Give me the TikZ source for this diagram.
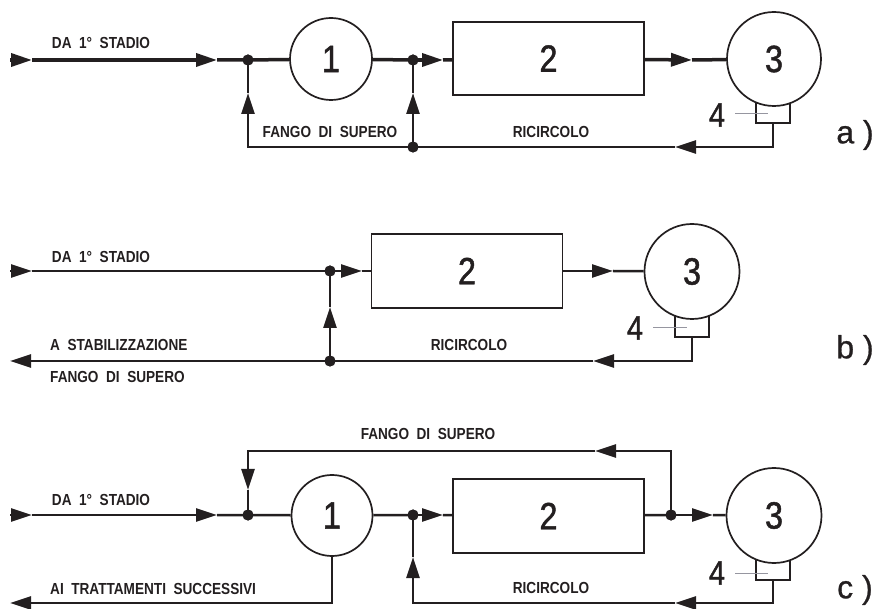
\documentclass[tikz,border=0pt]{standalone}
\usepackage{fontspec}
\setmainfont{Liberation Sans}
\newfontfamily\lblfont[FakeStretch=0.85,WordSpace=2]{Liberation Sans Bold}
\newfontfamily\numfont[FakeStretch=0.85,FakeBold=1.2]{Liberation Sans}
\newfontfamily\panelfont[FakeBold=0.8]{Liberation Sans}
\usetikzlibrary{arrows.meta}
\definecolor{ink}{RGB}{35,31,32}
\definecolor{leadgray}{RGB}{150,150,160}
\tikzset{
  thickflow/.style={line width=3.5pt,draw=ink},
  flow/.style={line width=2.5pt,draw=ink},
  tip/.style={-{Triangle[length=21pt,width=13pt]}},
  dot/.style={circle,fill=ink,inner sep=0pt,minimum size=11pt},
  tank/.style={circle,draw=ink,line width=1.7pt,fill=white,inner sep=0pt},
  basin/.style={rectangle,draw=ink,line width=1.7pt,fill=white,inner sep=0pt,minimum width=191pt,minimum height=74pt},
  pump/.style={rectangle,draw=ink,line width=1.7pt,fill=white,inner sep=0pt,minimum width=34pt,minimum height=24pt},
  lbl/.style={inner sep=0pt,text=ink,font=\lblfont\fontsize{16}{17}\selectfont},
  bignum/.style={inner sep=0pt,text=ink,font=\numfont\fontsize{38}{38}\selectfont},
  pnum/.style={inner sep=0pt,text=ink,font=\numfont\fontsize{34}{34}\selectfont},
  panel/.style={inner sep=0pt,text=ink,font=\panelfont\fontsize{32}{32}\selectfont},
  leader/.style={line width=1pt,draw=leadgray}
}
\begin{document}
\begin{tikzpicture}[x=1pt,y=-1pt]
\useasboundingbox (0,0) rectangle (876,609);

% ================= panel a =================
\coordinate (inA) at (10,60);
\coordinate (tA1) at (32,60);
\coordinate (tA2) at (217,60);
\node[dot] (ja1) at (248,60) {};
\node[dot] (ja2) at (413,60) {};
\coordinate (tA3) at (443,60);
\coordinate (tA4) at (692,60);
\node[pump] (p4a) at (773,111) {};
\node[tank,minimum size=82pt] (c1a) at (331,59) {};
\node[bignum] at (c1a) {1};
\node[basin,minimum height=73pt] (b2a) at (548.5,58.5) {};
\node[bignum] at (b2a) {2};
\node[tank,minimum size=94pt] (c3a) at (774,59) {};
\node[bignum] at (c3a) {3};
\node[dot] (ja3) at (413,147) {};
\coordinate (ka1) at (773,147);
\coordinate (tA5) at (675,147);
\coordinate (ka2) at (248,147);
\coordinate (tA6) at (248,93);
\coordinate (tA7) at (413,93);

\draw[thickflow,tip] (inA) -- (tA1);
\draw[thickflow,tip] (tA1) -- (tA2);
\draw[thickflow] (tA2) -- (ja1.center) -- (c1a);
\draw[thickflow] (c1a) -- (ja2.center);
\draw[thickflow,tip] (ja2.center) -- (tA3);
\draw[thickflow] (tA3) -- (b2a);
\draw[thickflow,tip] (b2a) -- (tA4);
\draw[thickflow] (tA4) -- (c3a);
\draw[flow] (p4a.south) -- (ka1) -- ++(-20,0);
\draw[flow,tip] (ka1) -- (tA5);
\draw[flow] (tA5) -- (ja3.center);
\draw[flow] (ja3.center) -- (ka2) -- ++(0,-10);
\draw[flow,tip] (ka2) -- (tA6);
\draw[flow] (tA6) -- (ja1.center);
\draw[flow,tip] (ja3.center) -- (tA7);
\draw[flow] (tA7) -- (ja2.center);
\node[dot] at (ja1) {};
\node[dot] at (ja2) {};
\node[dot] at (ja3) {};

\node[lbl] at (101,43) {DA 1° STADIO};
\node[lbl] at (330,132) {FANGO DI SUPERO};
\node[lbl] at (551,132) {RICIRCOLO};
\node[pnum] (l4a) at (717,115) {4};
\coordinate (g4a) at (768,114);
\draw[leader] (l4a.east) ++(10,-1) -- (g4a);
\node[panel] at (855,135) {a )};

% ================= panel b =================
\coordinate (inB) at (10,271);
\coordinate (tB1) at (32,271);
\node[dot] (jb1) at (330,271) {};
\coordinate (tB2) at (362,271);
\coordinate (tB3) at (613,271);
\node[pump] (p4b) at (692,325) {};
\node[basin] (b2b) at (467,271) {};
\node[bignum] at (b2b) {2};
\node[tank,minimum size=95pt] (c3b) at (692,271.5) {};
\node[bignum] at (c3b) {3};
\node[dot] (jb2) at (330,361) {};
\coordinate (kb1) at (692,361);
\coordinate (tB4) at (593,361);
\coordinate (outB) at (10,361);
\coordinate (tB5) at (330,307);

\draw[flow,tip] (inB) -- (tB1);
\draw[flow] (tB1) -- (jb1.center);
\draw[flow,tip] (jb1.center) -- (tB2);
\draw[flow] (tB2) -- (b2b);
\draw[flow,tip] (b2b) -- (tB3);
\draw[flow] (tB3) -- (c3b);
\draw[flow] (p4b.south) -- (kb1) -- ++(-20,0);
\draw[flow,tip] (kb1) -- (tB4);
\draw[flow] (tB4) -- (jb2.center);
\draw[flow,tip] (jb2.center) -- (outB);
\draw[flow,tip] (jb2.center) -- (tB5);
\draw[flow] (tB5) -- (jb1.center);
\node[dot] at (jb1) {};
\node[dot] at (jb2) {};

\node[lbl] at (101,257) {DA 1° STADIO};
\node[lbl,anchor=west] at (50,345) {A STABILIZZAZIONE};
\node[lbl,anchor=west] at (50,377) {FANGO DI SUPERO};
\node[lbl] at (469,345) {RICIRCOLO};
\node[pnum] (l4b) at (635,328) {4};
\coordinate (g4b) at (687,328);
\draw[leader] (l4b.east) ++(10,0) -- (g4b);
\node[panel] at (855,350) {b )};

% ================= panel c =================
\coordinate (inC) at (10,515);
\coordinate (tC1) at (32,515);
\coordinate (tC2) at (217,515);
\node[dot] (jc1) at (248,515) {};
\node[dot] (jc2) at (413,515) {};
\coordinate (tC3) at (443,515);
\node[dot] (jc3) at (671,515) {};
\coordinate (tC4) at (713,515);
\node[pump] (p4c) at (773,568) {};
\node[tank,minimum size=81pt] (c1c) at (332,515.5) {};
\node[bignum] at (c1c) {1};
\node[basin] (b2c) at (548.5,516) {};
\node[bignum] at (b2c) {2};
\node[tank,minimum size=95pt] (c3c) at (774,515.5) {};
\node[bignum] at (c3c) {3};
\coordinate (kc1) at (671,451);
\coordinate (tC5) at (595,451);
\coordinate (kc2) at (248,451);
\coordinate (tC6) at (248,490);
\coordinate (kc3) at (332,603);
\coordinate (outC) at (10,603);
\coordinate (kc4) at (773,603);
\coordinate (tC7) at (675,603);
\coordinate (kc5) at (413,603);
\coordinate (tC8) at (413,557);

\draw[flow,tip] (inC) -- (tC1);
\draw[flow,tip] (tC1) -- (tC2);
\draw[flow] (tC2) -- (jc1.center) -- (c1c);
\draw[flow] (c1c) -- (jc2.center);
\draw[flow,tip] (jc2.center) -- (tC3);
\draw[flow] (tC3) -- (b2c);
\draw[flow] (b2c) -- (jc3.center);
\draw[flow,tip] (jc3.center) -- (tC4);
\draw[flow] (tC4) -- (c3c);
% fango di supero loop
\draw[flow] (jc3.center) -- (kc1) -- ++(-20,0);
\draw[flow,tip] (kc1) -- (tC5);
\draw[flow] (tC5) -- (kc2) -- ++(0,10);
\draw[flow,tip] (kc2) -- (tC6);
\draw[flow] (tC6) -- (jc1.center);
% ai trattamenti successivi
\draw[flow] (c1c.south) -- (kc3) -- ++(-20,0);
\draw[flow,tip] (kc3) -- (outC);
% ricircolo
\draw[flow] (p4c.south) -- (kc4) -- ++(-20,0);
\draw[flow,tip] (kc4) -- (tC7);
\draw[flow] (tC7) -- (kc5) -- ++(0,-10);
\draw[flow,tip] (kc5) -- (tC8);
\draw[flow] (tC8) -- (jc2.center);
\node[dot] at (jc1) {};
\node[dot] at (jc2) {};
\node[dot] at (jc3) {};

\node[lbl] at (428,434) {FANGO DI SUPERO};
\node[lbl] at (101,500) {DA 1° STADIO};
\node[lbl,anchor=west] at (50,589) {AI TRATTAMENTI SUCCESSIVI};
\node[lbl] at (551,588) {RICIRCOLO};
\node[pnum] (l4c) at (717,573) {4};
\coordinate (g4c) at (768,573);
\draw[leader] (l4c.east) ++(10,0) -- (g4c);
\node[panel] at (855,590) {c )};
\end{tikzpicture}
\end{document}
